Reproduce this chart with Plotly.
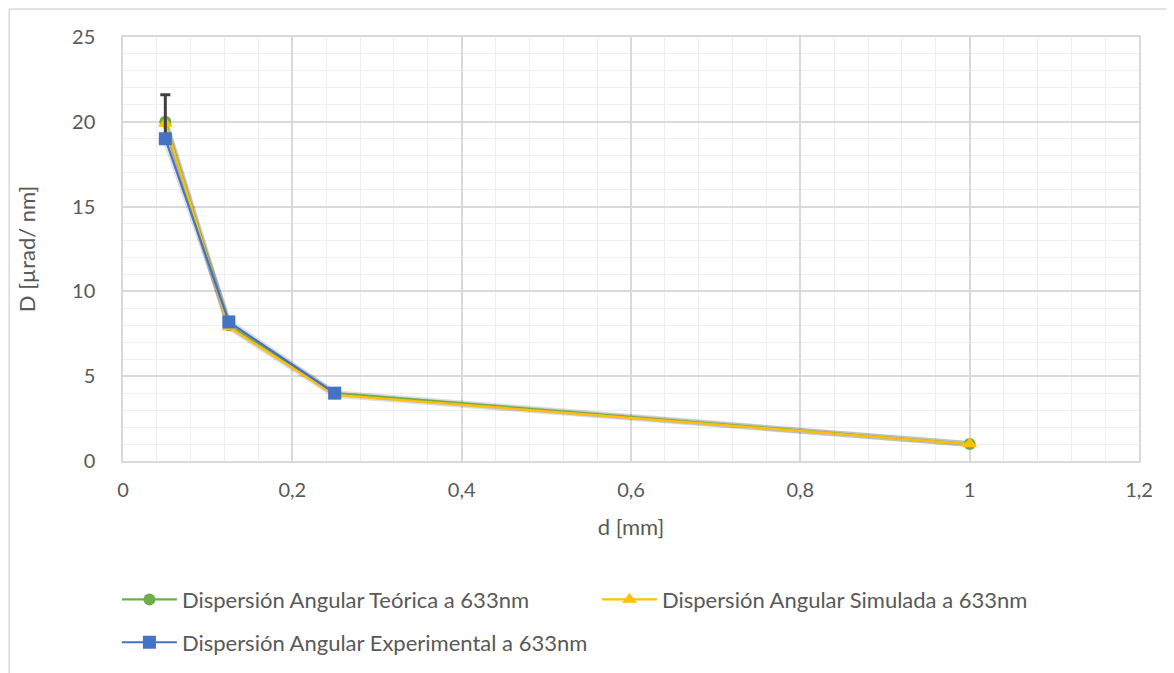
import plotly.graph_objects as go

# data
d_mm = [0.05, 0.125, 0.25, 1.0]
teorica = [20.0, 8.0, 4.0, 1.0]
simulada = [19.9, 7.9, 3.9, 1.0]
d_exp = [0.05, 0.125, 0.25]
experimental = [19.0, 8.2, 4.0]
exp_err_plus = [2.6, 0.0, 0.0]

names = ["Dispersión Angular Teórica a 633nm",
         "Dispersión Angular Simulada a 633nm",
         "Dispersión Angular Experimental a 633nm"]

FONT = "Lato, Open Sans, sans-serif"
TXT = "#595959"
FS = 20   # tick labels
FL = 22   # legend and axis titles

fig = go.Figure()

# soft shadow under the lines (Excel shadow effect)
for xs, ys in [(d_mm, teorica), (d_mm, simulada), (d_exp, experimental)]:
    fig.add_trace(go.Scatter(x=xs, y=ys, mode="lines", showlegend=False,
                             hoverinfo="skip",
                             line=dict(color="rgba(0,0,0,0.13)", width=6)))

fig.add_trace(go.Scatter(x=d_mm, y=teorica, name=names[0], mode="lines+markers",
                         line=dict(color="#70ad47", width=2.2),
                         marker=dict(symbol="circle", size=12, color="#70ad47")))
fig.add_trace(go.Scatter(x=d_mm, y=simulada, name=names[1], mode="lines+markers",
                         line=dict(color="#ffc000", width=2.2),
                         marker=dict(symbol="triangle-up", size=13, color="#ffc000")))
fig.add_trace(go.Scatter(x=d_exp, y=experimental, name=names[2], mode="lines+markers",
                         legend="legend2",
                         line=dict(color="#4472c4", width=2.2),
                         marker=dict(symbol="square", size=13, color="#4472c4"),
                         error_y=dict(type="data", array=exp_err_plus,
                                      arrayminus=[0, 0, 0], symmetric=False,
                                      color="#404040", thickness=3, width=5)))

legend_style = dict(orientation="h", xanchor="left", yanchor="middle",
                    entrywidth=410, entrywidthmode="pixels", itemwidth=55,
                    bgcolor="rgba(0,0,0,0)",
                    font=dict(family=FONT, size=FL, color=TXT))

fig.update_layout(
    width=1174, height=673,
    paper_bgcolor="white", plot_bgcolor="white",
    margin=dict(l=115, r=43, t=29, b=220, autoexpand=False),
    separators=",.",
    font=dict(family=FONT, size=FS, color=TXT),
    showlegend=True,
    legend=dict(x=-0.006, y=-0.327, **legend_style),
    legend2=dict(x=-0.006, y=-0.428, **legend_style),
    shapes=[
        dict(type="line", xref="paper", yref="paper", x0=-0.112, x1=-0.112,
             y0=1.066, y1=-0.6, line=dict(color="#d9d9d9", width=1.5)),
        dict(type="line", xref="paper", yref="paper", x0=-0.112, x1=1.0266,
             y0=1.066, y1=1.066, line=dict(color="#d9d9d9", width=1.5)),
    ],
)

fig.update_xaxes(range=[0, 1.2], dtick=0.2, tick0=0,
                 showgrid=True, gridcolor="#d9d9d9", gridwidth=1.5,
                 minor=dict(dtick=0.04, showgrid=True, gridcolor="#eeeeee", gridwidth=1),
                 showline=True, linecolor="#d9d9d9", linewidth=1.5, mirror=True,
                 zeroline=False, ticks="",
                 ticklabelstandoff=10,
                 tickfont=dict(size=FS, color=TXT),
                 title=dict(text="d [mm]", font=dict(size=FL, color=TXT), standoff=20))
fig.update_yaxes(range=[0, 25], dtick=5, tick0=0,
                 showgrid=True, gridcolor="#d9d9d9", gridwidth=1.5,
                 minor=dict(dtick=1, showgrid=True, gridcolor="#eeeeee", gridwidth=1),
                 showline=True, linecolor="#d9d9d9", linewidth=1.5, mirror=True,
                 zeroline=False, ticks="",
                 ticklabelstandoff=22,
                 tickfont=dict(size=FS, color=TXT),
                 title=dict(text="D [µrad/ nm]", font=dict(size=FL, color=TXT), standoff=30))

fig.write_html("out.html")
